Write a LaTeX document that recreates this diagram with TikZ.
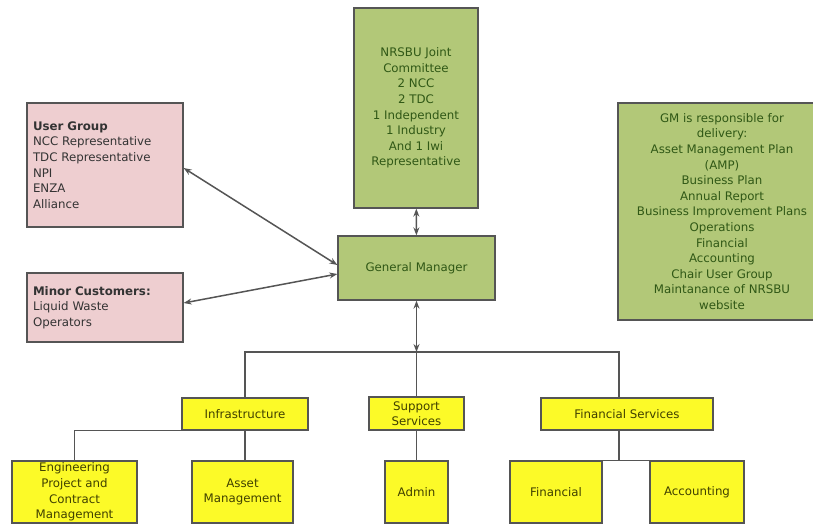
\documentclass[tikz,border=0pt]{standalone}
\usepackage{fontspec}
\setmainfont{DejaVu Sans}
\usetikzlibrary{positioning, arrows.meta, calc}

\definecolor{boxgreen}{RGB}{178,200,120}
\definecolor{textgreen}{RGB}{48,88,22}
\definecolor{boxpink}{RGB}{238,206,208}
\definecolor{boxyellow}{RGB}{252,250,40}
\definecolor{textolive}{RGB}{64,64,0}
\definecolor{edgegray}{RGB}{85,85,85}

\begin{document}
\begin{tikzpicture}[
        x=1pt, y=-1pt,
        box/.style={draw=edgegray, rectangle, inner sep=0pt, align=center, line width=1.3pt,
            font=\fontsize{11.8}{15.6}\selectfont},
        greenbox/.style={box, fill=boxgreen, text=textgreen},
        pinkbox/.style={box, fill=boxpink, text=black!80, align=left, text width=#1},
        yellowbox/.style={box, fill=boxyellow, text=textolive},
        link/.style={draw=edgegray, line width=1.5pt},
        arrow/.style={link, {Stealth[length=8pt,width=6pt]}-{Stealth[length=8pt,width=6pt]}}
    ]
    \useasboundingbox (0,0) rectangle (813,525);

    % --- top level ---
    \node[greenbox, minimum width=124pt, minimum height=200pt] (nrsbu) at (416,108)
        {NRSBU Joint\\Committee\\2 NCC\\2 TDC\\1 Independent\\1 Industry\\And 1 Iwi\\Representative};
    \node[greenbox, minimum width=157pt, minimum height=64pt] (gm) at (416.5,268) {General Manager};
    \node[greenbox, minimum width=208pt, minimum height=217pt] (resp) at (722,211.5)
        {GM is responsible for\\delivery:\\Asset Management Plan\\(AMP)\\Business Plan\\Annual Report\\Business Improvement Plans\\Operations\\Financial\\Accounting\\Chair User Group\\Maintanance of NRSBU\\website};
    \node[pinkbox=144pt, minimum width=156pt, minimum height=124pt] (ug) at (105,165)
        {\textbf{User Group}\\NCC Representative\\TDC Representative\\NPI\\ENZA\\Alliance};
    \node[pinkbox=144pt, minimum width=156pt, minimum height=69pt] (minor) at (105,307.5)
        {\textbf{Minor Customers:}\\Liquid Waste\\Operators};

    \draw[arrow] (nrsbu) -- (gm);
    \draw[arrow] ([yshift=-3pt]ug.east) -- ([yshift=3pt]gm.west);
    \draw[arrow] ([yshift=4.5pt]minor.east) -- ([yshift=-6pt]gm.west);

    % --- departments ---
    \node[yellowbox, minimum width=126pt, minimum height=32pt] (infra) at (245,414) {Infrastructure};
    \node[yellowbox, minimum width=95pt, minimum height=33pt] (supp) at (416.5,413.5) {Support\\Services};
    \node[yellowbox, minimum width=172pt, minimum height=32pt] (fins) at (627,414) {Financial Services};

    \coordinate (bus) at (416.5,352);
    \draw[arrow] (gm.south) -- (bus);
    \draw[link] (bus) -| (infra.north);
    \draw[link] (bus) -- (supp.north);
    \draw[link] (bus) -| ([xshift=-8pt]fins.north);

    % --- teams ---
    \node[yellowbox, minimum width=125pt, minimum height=62pt] (eng) at (74.5,492)
        {Engineering\\Project and\\Contract\\Management};
    \node[yellowbox, minimum width=101pt, minimum height=62pt] (asset) at (242.5,492) {Asset\\Management};
    \node[yellowbox, minimum width=63pt, minimum height=62pt] (admin) at (416.5,492) {Admin};
    \node[yellowbox, minimum width=92pt, minimum height=62pt] (fin) at (556,492) {Financial};
    \node[yellowbox, minimum width=94pt, minimum height=62pt] (acc) at (697,492) {Accounting};

    \draw[link] (infra.south) -| (eng.north);
    \draw[link] (infra.south) -- (infra.south |- asset.north);
    \draw[link] (supp.south) -- (admin.north);
    \draw[link] ([xshift=-8pt]fins.south) |- (fin.north east);
    \draw[link] ([xshift=-8pt]fins.south) |- (acc.north west);
\end{tikzpicture}
\end{document}
